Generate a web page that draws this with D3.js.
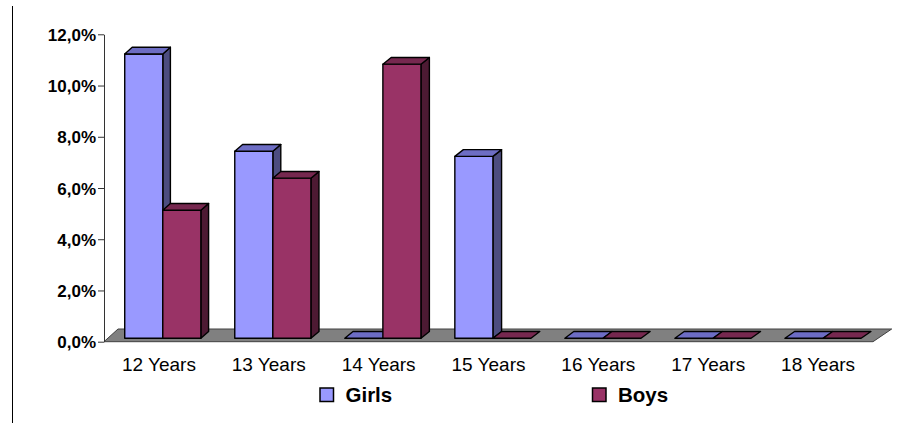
<!DOCTYPE html>
<html><head><meta charset="utf-8">
<script src="https://cdn.jsdelivr.net/npm/d3@7"></script>
<style>body{margin:0;background:#fff}svg{display:block}</style>
</head><body><svg id="c" width="904" height="423"></svg>
<script>
const categories = ["12 Years","13 Years","14 Years","15 Years","16 Years","17 Years","18 Years"];
const girls = [0.111, 0.073, 0, 0.071, 0, 0, 0];
const boys  = [0.050, 0.0625, 0.107, 0, 0, 0, 0];
const tickValues = [0, 0.02, 0.04, 0.06, 0.08, 0.10, 0.12];
const seriesNames = ["Girls","Boys"];

const svg = d3.select("#c");
const loc = d3.formatLocale({decimal:",", thousands:".", grouping:[3], currency:["","€"], percent:"%"});
const fmt = loc.format(".1%");

const xL = 104, xR = 873;
const x = d3.scaleBand().domain(categories).range([xL, xR]);
const y = d3.scaleLinear().domain([0, 0.12]).range([341.7, 34.3]);
const DY = 12.7;
const DX = xf => 14 + 4.7 * (xf - xL) / (xR - xL);
const P = (xf, v, z) => [xf + z * DX(xf), y(v) - z * DY];
const poly = pts => "M" + pts.map(p => p.join(",")).join("L") + "Z";

// outer left border line
svg.append("line").attr("x1",12.5).attr("x2",12.5).attr("y1",6).attr("y2",423).attr("stroke","#000").attr("stroke-width",1);

// floor
svg.append("path").attr("d", poly([P(xL,0,0),P(xR,0,0),P(xR,0,1),P(xL,0,1)]))
  .attr("fill","#808080").attr("stroke","#404040").attr("stroke-width",1);

// axis
const axis = d3.axisLeft(y).tickValues(tickValues).tickFormat(fmt).tickSize(6).tickSizeOuter(0);
const gA = svg.append("g").attr("transform",`translate(${xL},0)`).call(axis);
gA.select(".domain").attr("stroke","#333");
gA.selectAll(".tick line").attr("stroke","#333");
gA.selectAll(".tick text").attr("font-family","Liberation Sans, Arial, sans-serif")
  .attr("font-size",17).attr("font-weight","bold").attr("fill","#000").attr("x",-8).attr("dy","0.36em");

// bars
const z0 = 0.27, z1 = 0.80;
const bw = x.bandwidth() * 0.346;
const styles = [
  {front:"#9999ff", top:"#6d6dc4", side:"#4d4d80"},
  {front:"#993366", top:"#76284f", side:"#4d1a33"}
];
const gB = svg.append("g");
categories.forEach((c, i) => {
  const cx = x(c) + x.bandwidth()/2;
  [girls[i], boys[i]].forEach((v, s) => {
    const x0 = s === 0 ? cx - bw : cx;
    const x1 = x0 + bw;
    const st = styles[s];
    const g = gB.append("g").attr("stroke","#000").attr("stroke-width",1.4).attr("stroke-linejoin","round");
    if (v > 0) {
      g.append("path").attr("d", poly([P(x1,v,z0),P(x1,v,z1),P(x1,0,z1),P(x1,0,z0)])).attr("fill",st.side);
      g.append("path").attr("d", poly([P(x0,v,z0),P(x1,v,z0),P(x1,0,z0),P(x0,0,z0)])).attr("fill",st.front);
    }
    g.append("path").attr("d", poly([P(x0,v,z0),P(x1,v,z0),P(x1,v,z1),P(x0,v,z1)])).attr("fill",st.top);
  });
});

// category labels
svg.append("g").selectAll("text").data(categories).join("text")
  .attr("x", d => x(d) + x.bandwidth()/2).attr("y", 370.5)
  .attr("text-anchor","middle").attr("font-family","Liberation Sans, Arial, sans-serif")
  .attr("font-size",19).attr("fill","#000").text(d => d);

// legend
const legX = [320, 592.5];
const gL = svg.append("g");
seriesNames.forEach((n, i) => {
  gL.append("rect").attr("x",legX[i]).attr("y",388).attr("width",13.5).attr("height",13.5)
    .attr("fill",styles[i].front).attr("stroke","#000").attr("stroke-width",1.5);
  gL.append("text").attr("x",legX[i]+25.5).attr("y",401.7)
    .attr("font-family","Liberation Sans, Arial, sans-serif").attr("font-size",20.5).attr("font-weight","bold")
    .attr("fill","#000").text(n);
});
</script></body></html>
